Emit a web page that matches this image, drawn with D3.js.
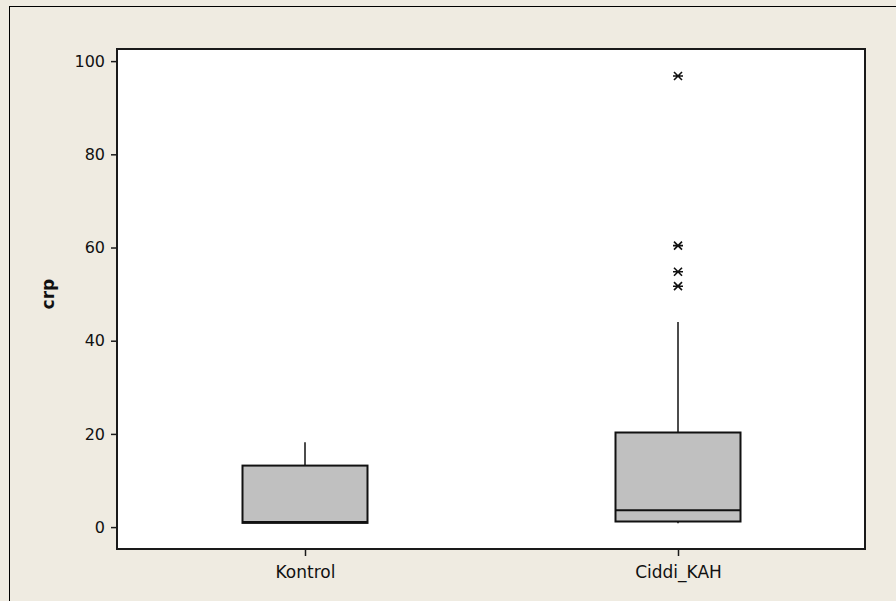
<!DOCTYPE html>
<html>
<head>
<meta charset="utf-8">
<script src="https://cdn.jsdelivr.net/npm/d3@7"></script>
<style>
  html, body { margin: 0; padding: 0; background: #EFEBE1; }
  svg { display: block; }
</style>
</head>
<body>
<svg id="chart" width="896" height="601"></svg>
<script>
// ---- data ----
const categories = ["Kontrol", "Ciddi_KAH"];
const q1Values = [0.9, 1.2];
const medianValues = [1.1, 3.6];
const q3Values = [13.2, 20.3];
const whiskerLow = [0.9, 0.8];
const whiskerHigh = [18.2, 44.0];
const outliersKontrol = [];
const outliersCiddi = [51.7, 54.8, 60.4, 96.8];
const yTicks = [0, 20, 40, 60, 80, 100];
const yLabel = "crp";

const outliers = [outliersKontrol, outliersCiddi];

const svg = d3.select("#chart");
const W = 896, H = 601;
const plot = { left: 117, top: 49, right: 865, bottom: 549 };

// figure background & outer frame
svg.append("rect").attr("x", 0).attr("y", 0).attr("width", W).attr("height", H).attr("fill", "#EFEBE1");
svg.append("rect").attr("x", 9.5).attr("y", 6.5).attr("width", W + 20).attr("height", H + 20)
  .attr("fill", "#EFEBE1").attr("stroke", "#000").attr("stroke-width", 1);

// plot area
svg.append("rect").attr("x", plot.left).attr("y", plot.top)
  .attr("width", plot.right - plot.left).attr("height", plot.bottom - plot.top)
  .attr("fill", "#fff").attr("stroke", "#1a1a1a").attr("stroke-width", 2);

const y = d3.scaleLinear().domain([-4.7, 102.6]).range([plot.bottom, plot.top]);
const x = d3.scalePoint().domain(categories).range([305, 678]);

const boxW = 125;

// y axis
const yAxis = svg.append("g").attr("transform", `translate(${plot.left},0)`)
  .call(d3.axisLeft(y).tickValues(yTicks).tickSize(6).tickPadding(6).tickFormat(d3.format("d")));
yAxis.select(".domain").remove();
yAxis.selectAll(".tick line").attr("stroke", "#1a1a1a").attr("stroke-width", 1.5);
yAxis.selectAll(".tick text").attr("font-family", "DejaVu Sans, sans-serif").attr("font-size", 16).attr("fill", "#111");

// x axis
const xAxis = svg.append("g").attr("transform", `translate(0,${plot.bottom})`)
  .call(d3.axisBottom(x).tickSize(7).tickPadding(10));
xAxis.select(".domain").remove();
xAxis.selectAll(".tick line").attr("stroke", "#1a1a1a").attr("stroke-width", 1.5);
xAxis.selectAll(".tick text").attr("font-family", "DejaVu Sans, sans-serif").attr("font-size", 17).attr("fill", "#111");

// y label
svg.append("text")
  .attr("transform", `translate(54, ${(y(100) + y(0)) / 2 + 0}) rotate(-90)`)
  .attr("text-anchor", "middle")
  .attr("font-family", "DejaVu Sans, sans-serif").attr("font-weight", "bold").attr("font-size", 17)
  .attr("fill", "#111")
  .text(yLabel);

// boxes
const g = svg.append("g");
categories.forEach((c, i) => {
  const cx = x(c);
  // whiskers
  g.append("line").attr("x1", cx).attr("x2", cx).attr("y1", y(q3Values[i])).attr("y2", y(whiskerHigh[i]))
    .attr("stroke", "#111").attr("stroke-width", 1.5);
  g.append("line").attr("x1", cx).attr("x2", cx).attr("y1", y(q1Values[i])).attr("y2", y(whiskerLow[i]))
    .attr("stroke", "#111").attr("stroke-width", 1.5);
  // box
  g.append("rect").attr("x", cx - boxW / 2).attr("width", boxW)
    .attr("y", y(q3Values[i])).attr("height", y(q1Values[i]) - y(q3Values[i]))
    .attr("fill", "#C0C0C0").attr("stroke", "#111").attr("stroke-width", 2);
  // median
  g.append("line").attr("x1", cx - boxW / 2).attr("x2", cx + boxW / 2)
    .attr("y1", y(medianValues[i])).attr("y2", y(medianValues[i]))
    .attr("stroke", "#111").attr("stroke-width", 2);
  // outliers (asterisks)
  outliers[i].forEach(v => {
    const py = y(v), r = 5;
    const path = `M${cx - r},${py}H${cx + r}M${cx - r * 0.8},${py - r * 0.8}L${cx + r * 0.8},${py + r * 0.8}M${cx - r * 0.8},${py + r * 0.8}L${cx + r * 0.8},${py - r * 0.8}`;
    g.append("path").attr("d", path).attr("stroke", "#111").attr("stroke-width", 1.6).attr("fill", "none");
  });
});
</script>
</body>
</html>
